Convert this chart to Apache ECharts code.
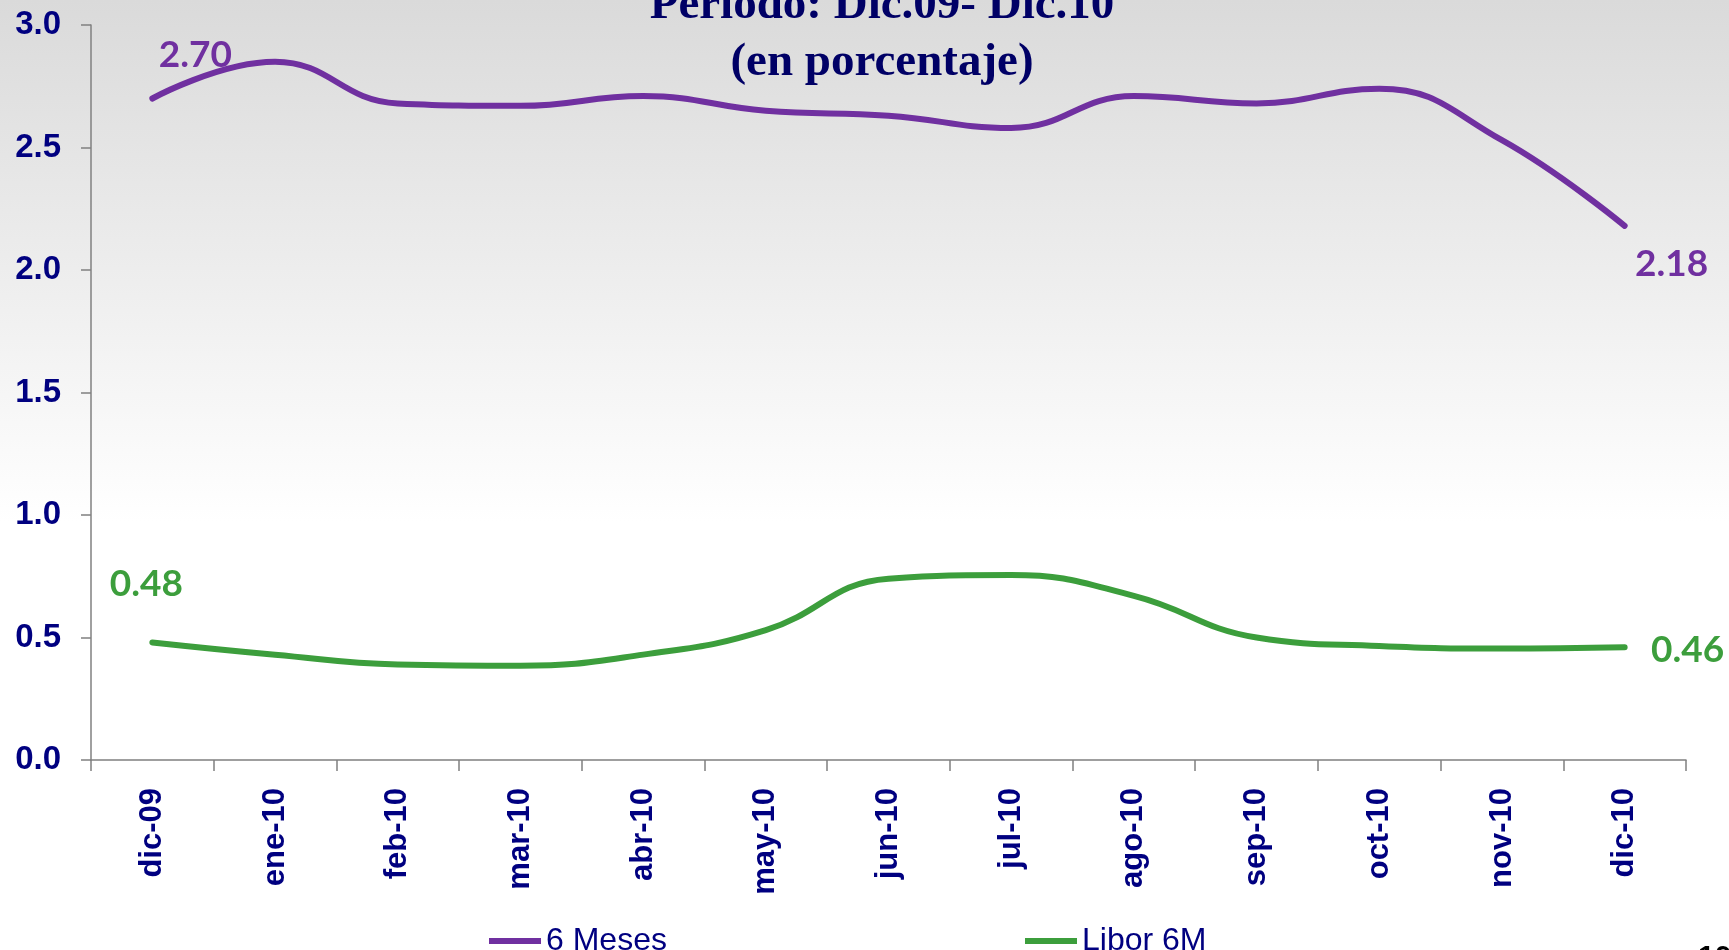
<!DOCTYPE html>
<html>
<head>
<meta charset="utf-8">
<script src="https://cdn.jsdelivr.net/npm/echarts@6/dist/echarts.min.js"></script>
<style>
html,body{margin:0;padding:0;background:#fff;}
#chart{width:1729px;height:950px;}
</style>
</head>
<body>
<div id="chart"></div>
<script>
var categories = ['dic-09','ene-10','feb-10','mar-10','abr-10','may-10','jun-10','jul-10','ago-10','sep-10','oct-10','nov-10','dic-10'];
var meses6 = [2.70, 2.85, 2.68, 2.67, 2.71, 2.65, 2.63, 2.58, 2.71, 2.68, 2.74, 2.53, 2.18];
var libor6m = [0.48, 0.43, 0.39, 0.385, 0.43, 0.53, 0.74, 0.755, 0.67, 0.50, 0.465, 0.455, 0.46];
var yTicks = ['0.0','0.5','1.0','1.5','2.0','2.5','3.0'];
var titleLines = ['Periodo: Dic.09- Dic.10', '(en porcentaje)'];

var purple = '#7030a0';
var green = '#3c9e3c';
var navy = '#000080';

function withEndLabels(values, firstOffset, lastOffset, color) {
  return values.map(function (v, i) {
    if (i === 0 || i === values.length - 1) {
      return {
        value: v,
        label: {
          show: true,
          position: 'inside',
          offset: i === 0 ? firstOffset : lastOffset,
          formatter: function (p) { return Number(p.value).toFixed(2); },
          color: color,
          fontFamily: 'Lato',
          fontWeight: 'bold',
          fontSize: 37
        }
      };
    }
    return v;
  });
}

var chart = echarts.init(document.getElementById('chart'));
var option = {
  animation: false,
  graphic: [
    {
      type: 'rect', z: -10, silent: true,
      shape: { x: 0, y: 0, width: 1729, height: 950 },
      style: { fill: new echarts.graphic.LinearGradient(0, 0, 0, 1, [
        { offset: 0, color: '#dadada' },
        { offset: 0.55, color: '#ffffff' },
        { offset: 1, color: '#ffffff' }
      ]) }
    },
    {
      type: 'text', x: 882, y: 6, z: 10,
      style: { text: titleLines[0], fill: '#000066', font: 'bold 47px "Liberation Serif", serif', align: 'center', verticalAlign: 'middle' }
    },
    {
      type: 'text', x: 882, y: 63, z: 10,
      style: { text: titleLines[1], fill: '#000066', font: 'bold 47px "Liberation Serif", serif', align: 'center', verticalAlign: 'middle' }
    },
    {
      type: 'text', x: 1698, y: 943, z: 10,
      style: { text: '10', fill: '#000000', font: 'bold 30px "Liberation Sans", Arial, sans-serif', align: 'left', verticalAlign: 'top' }
    }
  ],
  grid: { left: 91, right: 43, top: 25, bottom: 190, containLabel: false, outerBoundsMode: 'none' },
  legend: [
    {
      data: ['6 Meses'], left: 484, top: 920, icon: 'rect', itemWidth: 52, itemHeight: 6, itemGap: 0,
      textStyle: { color: navy, fontSize: 32, fontFamily: '"Liberation Sans", Arial, sans-serif' }
    },
    {
      data: ['Libor 6M'], left: 1020, top: 920, icon: 'rect', itemWidth: 52, itemHeight: 6, itemGap: 0,
      textStyle: { color: navy, fontSize: 32, fontFamily: '"Liberation Sans", Arial, sans-serif' }
    }
  ],
  xAxis: {
    type: 'category',
    data: categories,
    boundaryGap: true,
    axisLine: { show: true, lineStyle: { color: '#808080', width: 1.5 } },
    axisTick: { show: true, alignWithLabel: false, length: 11, lineStyle: { color: '#808080', width: 1.5 } },
    axisLabel: {
      rotate: 90, margin: 28, interval: 0,
      color: navy, fontWeight: 'bold', fontSize: 31,
      fontFamily: '"Liberation Sans", Arial, sans-serif'
    },
    splitLine: { show: false }
  },
  yAxis: {
    type: 'value', min: 0, max: 3, interval: 0.5,
    axisLine: { show: true, lineStyle: { color: '#808080', width: 1.5 } },
    axisTick: { show: true, length: 10, lineStyle: { color: '#808080', width: 1.5 } },
    axisLabel: {
      margin: 30, color: navy, fontWeight: 'bold', fontSize: 33,
      fontFamily: '"Liberation Sans", Arial, sans-serif',
      formatter: function (v) { return yTicks[Math.round(v / 0.5)]; }
    },
    splitLine: { show: false }
  },
  series: [
    {
      name: '6 Meses', type: 'line', smooth: 0.45,
      data: withEndLabels(meses6, [43, -43], [47, 38], purple),
      symbol: 'circle', symbolSize: 1, showSymbol: true,
      itemStyle: { color: purple },
      lineStyle: { color: purple, width: 6, cap: 'round' },
      z: 3
    },
    {
      name: 'Libor 6M', type: 'line', smooth: 0.45,
      data: withEndLabels(libor6m, [-6, -58], [63, 3], green),
      symbol: 'circle', symbolSize: 1, showSymbol: true,
      itemStyle: { color: green },
      lineStyle: { color: green, width: 6, cap: 'round' },
      z: 3
    }
  ]
};
chart.setOption(option);
</script>
</body>
</html>
